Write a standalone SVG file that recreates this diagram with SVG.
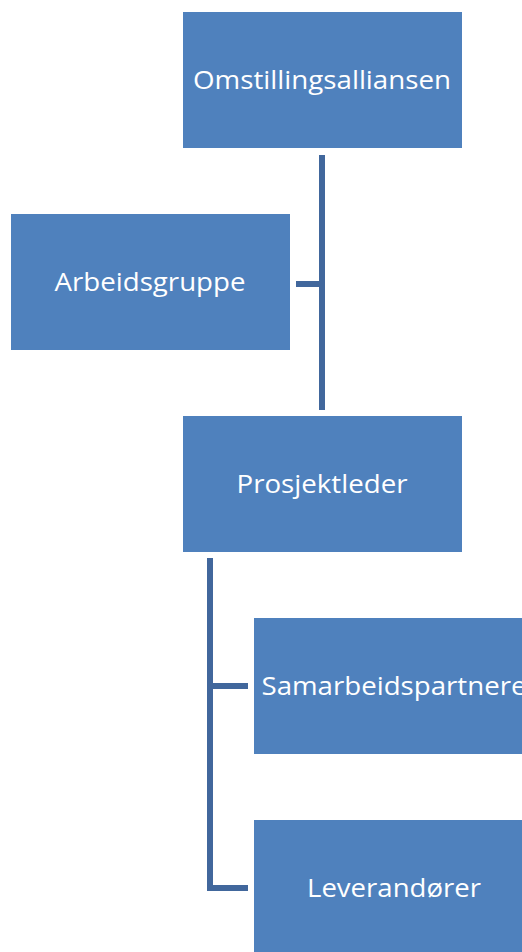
<svg xmlns="http://www.w3.org/2000/svg" width="522" height="952" viewBox="0 0 522 952">
<style>
.box{fill:#4F81BD;}
.lbl{fill:#FFFFFF;font-family:"Open Sans","Liberation Sans",sans-serif;font-size:25px;text-anchor:middle;}
.con{fill:none;stroke:#41679C;stroke-width:6;stroke-linejoin:miter;}
</style>
<rect width="522" height="952" fill="#FFFFFF"/>
<g id="connectors">
<path class="con" d="M322,155 V410 M296,284 H322"/>
<path class="con" d="M210,558 V888 H248 M210,686 H248"/>
</g>
<g id="omstillingsalliansen">
<rect class="box" x="183" y="12" width="279" height="136"/>
<text class="lbl" x="322" y="89" textLength="258" lengthAdjust="spacingAndGlyphs">Omstillingsalliansen</text>
</g>
<g id="arbeidsgruppe">
<rect class="box" x="11" y="214" width="279" height="136"/>
<text class="lbl" x="150" y="291" textLength="191" lengthAdjust="spacingAndGlyphs">Arbeidsgruppe</text>
</g>
<g id="prosjektleder">
<rect class="box" x="183" y="416" width="279" height="136"/>
<text class="lbl" x="322" y="493" textLength="171" lengthAdjust="spacingAndGlyphs">Prosjektleder</text>
</g>
<g id="samarbeidspartnere">
<rect class="box" x="254" y="618" width="279" height="136"/>
<text class="lbl" x="394" y="695" textLength="265" lengthAdjust="spacingAndGlyphs">Samarbeidspartnere</text>
</g>
<g id="leverandorer">
<rect class="box" x="254" y="820" width="279" height="136"/>
<text class="lbl" x="394" y="897" textLength="174" lengthAdjust="spacingAndGlyphs">Leverandører</text>
</g>
</svg>
